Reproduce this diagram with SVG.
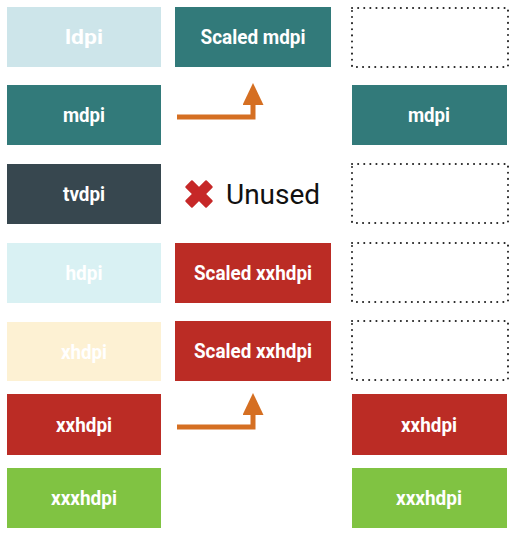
<svg xmlns="http://www.w3.org/2000/svg" width="514" height="534" viewBox="0 0 514 534">
<style>
.lbl{font-family:Roboto,"Liberation Sans",sans-serif;font-weight:700;font-size:21px;fill:#fff;text-anchor:middle}
.dot{fill:none;stroke:#222;stroke-width:2;stroke-dasharray:0.1 6;stroke-linecap:round}
.arr{fill:none;stroke:#d56f22;stroke-width:5}
</style>
<defs>
<marker id="ah" markerWidth="5" markerHeight="5" refX="1" refY="2.1" orient="auto" markerUnits="strokeWidth">
<path d="M0,0 L4.4,2.1 L0,4.2 Z" fill="#d56f22"/>
</marker>
</defs>
<rect width="514" height="534" fill="#fff"/>
<g id="ldpi"><rect x="7" y="7" width="154" height="60" fill="#cde5ea"/><text class="lbl" x="84" y="44" textLength="38" lengthAdjust="spacingAndGlyphs">ldpi</text></g>
<g id="mdpi"><rect x="7" y="85" width="154" height="60" fill="#327a7a"/><text class="lbl" x="84" y="122" textLength="42" lengthAdjust="spacingAndGlyphs">mdpi</text></g>
<g id="tvdpi"><rect x="7" y="164" width="154" height="60" fill="#37474f"/><text class="lbl" x="84" y="201" textLength="42" lengthAdjust="spacingAndGlyphs">tvdpi</text></g>
<g id="hdpi"><rect x="7" y="243" width="154" height="60" fill="#d9f1f3"/><text class="lbl" x="84" y="280" textLength="37" lengthAdjust="spacingAndGlyphs">hdpi</text></g>
<g id="xhdpi"><rect x="7" y="322" width="154" height="59" fill="#fdf1d3"/><text class="lbl" x="84" y="359" textLength="46" lengthAdjust="spacingAndGlyphs">xhdpi</text></g>
<g id="xxhdpi"><rect x="7" y="394" width="154" height="61" fill="#bb2c25"/><text class="lbl" x="84" y="432" textLength="56" lengthAdjust="spacingAndGlyphs">xxhdpi</text></g>
<g id="xxxhdpi"><rect x="7" y="468" width="154" height="60" fill="#80c342"/><text class="lbl" x="84" y="505" textLength="66" lengthAdjust="spacingAndGlyphs">xxxhdpi</text></g>

<g id="scaled-mdpi"><rect x="175" y="7" width="156" height="60" fill="#327a7a"/><text class="lbl" x="253" y="44" textLength="105" lengthAdjust="spacingAndGlyphs">Scaled mdpi</text></g>
<g id="unused">
<g transform="translate(199,194) rotate(45)" fill="#c62828"><rect x="-15" y="-5" width="30" height="10" rx="1"/><rect x="-5" y="-15" width="10" height="30" rx="1"/></g>
<text x="226" y="204" font-family="Roboto,'Liberation Sans',sans-serif" font-size="28" fill="#111">Unused</text>
</g>
<g id="scaled-xxhdpi-1"><rect x="175" y="243" width="156" height="60" fill="#bb2c25"/><text class="lbl" x="253" y="280" textLength="118" lengthAdjust="spacingAndGlyphs">Scaled xxhdpi</text></g>
<g id="scaled-xxhdpi-2"><rect x="175" y="321" width="156" height="60" fill="#bb2c25"/><text class="lbl" x="253" y="358" textLength="118" lengthAdjust="spacingAndGlyphs">Scaled xxhdpi</text></g>

<g id="out-1"><rect class="dot" x="352" y="8" width="156" height="59"/></g>
<g id="out-mdpi"><rect x="352" y="85" width="155" height="60" fill="#327a7a"/><text class="lbl" x="429" y="122" textLength="42" lengthAdjust="spacingAndGlyphs">mdpi</text></g>
<g id="out-3"><rect class="dot" x="352" y="164" width="156" height="59"/></g>
<g id="out-4"><rect class="dot" x="352" y="243" width="156" height="59"/></g>
<g id="out-5"><rect class="dot" x="352" y="321" width="156" height="59"/></g>
<g id="out-xxhdpi"><rect x="352" y="394" width="155" height="61" fill="#bb2c25"/><text class="lbl" x="429" y="432" textLength="56" lengthAdjust="spacingAndGlyphs">xxhdpi</text></g>
<g id="out-xxxhdpi"><rect x="352" y="468" width="155" height="60" fill="#80c342"/><text class="lbl" x="429" y="505" textLength="66" lengthAdjust="spacingAndGlyphs">xxxhdpi</text></g>

<g id="connectors">
<path class="arr" d="M177,117 H253 V100" marker-end="url(#ah)"/>
<path class="arr" d="M177,427 H253 V410" marker-end="url(#ah)"/>
</g>
</svg>
